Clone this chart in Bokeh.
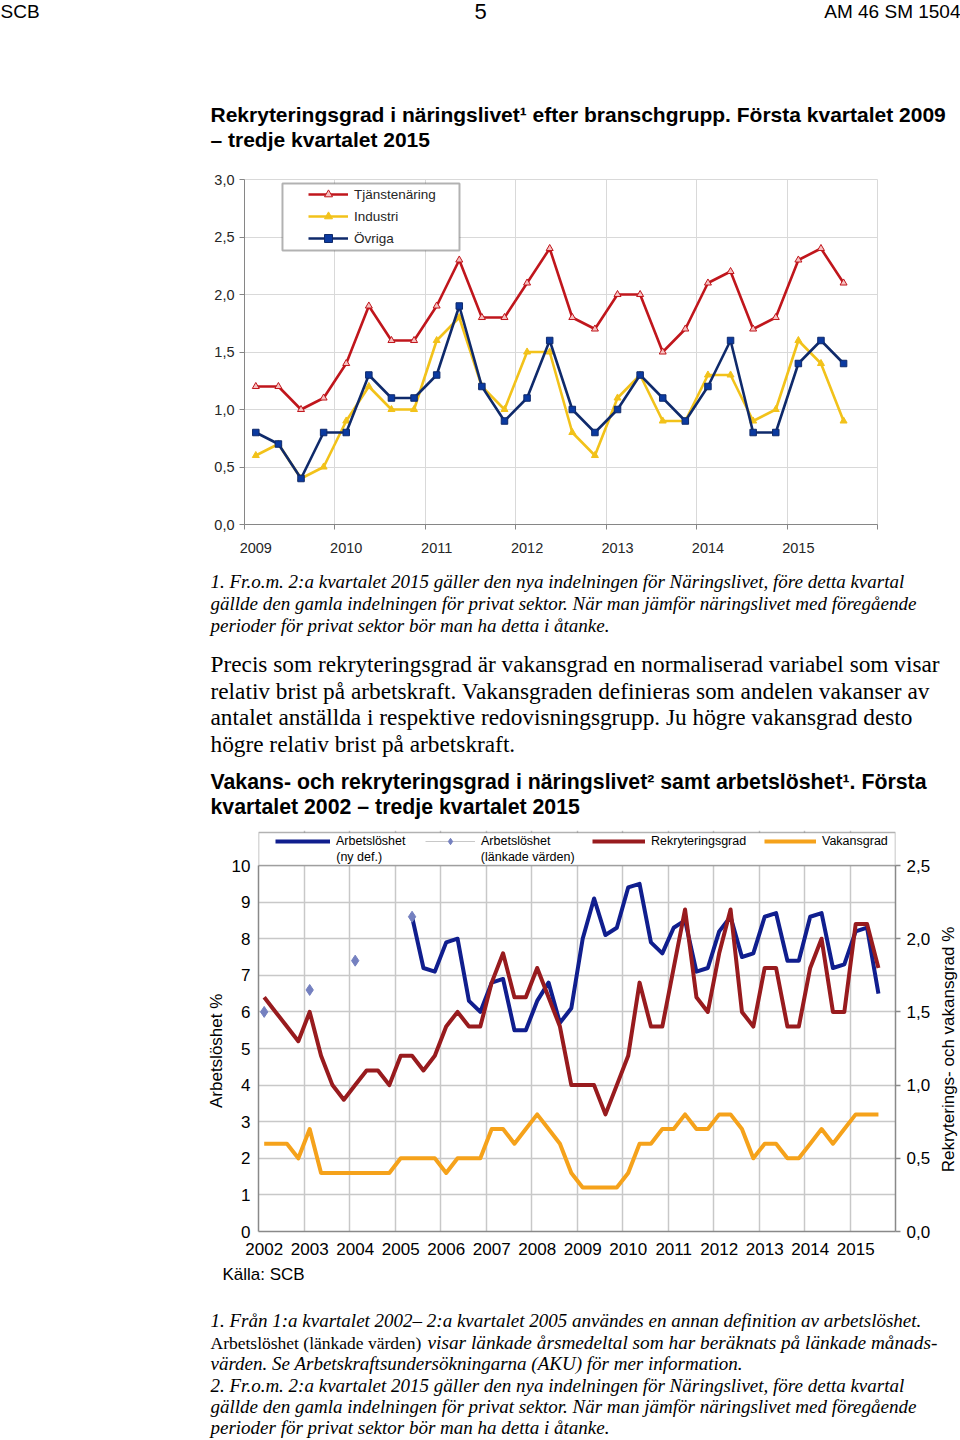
import numpy as np
from bokeh.plotting import figure
from bokeh.models import (Range1d, LinearAxis, FixedTicker, CustomJSTickFormatter,
                          Legend, LegendItem, BoxAnnotation, Label)
from bokeh.layouts import column, row
from bokeh.embed import file_html
from bokeh.resources import INLINE
from bokeh.core.properties import value

# ---------------- data: chart 1 ----------------
years1 = ["2009", "2010", "2011", "2012", "2013", "2014", "2015"]
quarters1 = [f"{y} K{q}" for y in years1 for q in (1, 2, 3, 4)][:27]
tjanstenaring = [1.2, 1.2, 1.0, 1.1, 1.4, 1.9, 1.6, 1.6, 1.9, 2.3, 1.8, 1.8, 2.1, 2.4,
                 1.8, 1.7, 2.0, 2.0, 1.5, 1.7, 2.1, 2.2, 1.7, 1.8, 2.3, 2.4, 2.1]
industri = [0.6, 0.7, 0.4, 0.5, 0.9, 1.2, 1.0, 1.0, 1.6, 1.8, 1.2, 1.0, 1.5, 1.5,
            0.8, 0.6, 1.1, 1.3, 0.9, 0.9, 1.3, 1.3, 0.9, 1.0, 1.6, 1.4, 0.9]
ovriga = [0.8, 0.7, 0.4, 0.8, 0.8, 1.3, 1.1, 1.1, 1.3, 1.9, 1.2, 0.9, 1.1, 1.6,
          1.0, 0.8, 1.0, 1.3, 1.1, 0.9, 1.2, 1.6, 0.8, 0.8, 1.4, 1.6, 1.4]
y1_ticks = [0.0, 0.5, 1.0, 1.5, 2.0, 2.5, 3.0]

# ---------------- data: chart 2 ----------------
years2 = [str(y) for y in range(2002, 2016)]
quarters2 = [f"{y} K{q}" for y in years2 for q in (1, 2, 3, 4)][:55]
rekryteringsgrad = [1.6, 1.5, 1.4, 1.3, 1.5, 1.2, 1.0, 0.9, 1.0, 1.1, 1.1, 1.0,
                    1.2, 1.2, 1.1, 1.2, 1.4, 1.5, 1.4, 1.4, 1.7, 1.9, 1.6, 1.6,
                    1.8, 1.6, 1.4, 1.0, 1.0, 1.0, 0.8, 1.0, 1.2, 1.7, 1.4, 1.4,
                    1.8, 2.2, 1.6, 1.5, 1.9, 2.2, 1.5, 1.4, 1.8, 1.8, 1.4, 1.4,
                    1.8, 2.0, 1.5, 1.5, 2.1, 2.1, 1.8]
vakansgrad = [0.6, 0.6, 0.6, 0.5, 0.7, 0.4, 0.4, 0.4, 0.4, 0.4, 0.4, 0.4,
              0.5, 0.5, 0.5, 0.5, 0.4, 0.5, 0.5, 0.5, 0.7, 0.7, 0.6, 0.7,
              0.8, 0.7, 0.6, 0.4, 0.3, 0.3, 0.3, 0.3, 0.4, 0.6, 0.6, 0.7,
              0.7, 0.8, 0.7, 0.7, 0.8, 0.8, 0.7, 0.5, 0.6, 0.6, 0.5, 0.5,
              0.6, 0.7, 0.6, 0.7, 0.8, 0.8, 0.8]
arb_ny_start = "2005 K2"
arbetsloshet_ny = [8.6, 7.2, 7.1, 7.9, 8.0, 6.3, 6.0, 6.8, 6.9, 5.5, 5.5, 6.3, 6.8,
                   5.7, 6.1, 8.0, 9.1, 8.1, 8.3, 9.4, 9.5, 7.9, 7.6, 8.3, 8.5, 7.1,
                   7.2, 8.2, 8.6, 7.5, 7.6, 8.6, 8.7, 7.4, 7.4, 8.6, 8.7, 7.2, 7.3,
                   8.2, 8.3, 6.5]
arb_lank_quarters = ["2002 K1", "2003 K1", "2004 K1", "2005 K2"]
arbetsloshet_lank = [6.0, 6.6, 7.4, 8.6]
y2_left_ticks = list(range(0, 11))
y2_right_ticks = [0.0, 0.5, 1.0, 1.5, 2.0, 2.5]

SANS = "Liberation Sans"
SERIF = "Liberation Serif"
W = 960
comma_fmt = CustomJSTickFormatter(code="return tick.toFixed(1).replace('.', ',');")


def text_fig(top, bottom, left=0, right=W):
    p = figure(width=right - left, height=bottom - top, x_range=Range1d(left, right),
               y_range=Range1d(bottom, top), output_backend="svg",
               toolbar_location=None, min_border=0, x_axis_type=None,
               y_axis_type=None, outline_line_color=None, frame_align=False)
    p.grid.visible = False
    return p


def add_text(p, xs, ys, texts, font, size, style="normal", align="left", color="black",
             angle=0.0):
    p.text(x=xs, y=ys, text=texts, text_font=value(font), text_font_size=size,
           text_font_style=style, text_align=align, text_baseline="middle",
           text_color=color, angle=angle)


# ---------------- Fig A: header + title 1 ----------------
pa = text_fig(0, 160)
add_text(pa, [0], [11], ["SCB"], SANS, "19px")
add_text(pa, [480], [11], ["5"], SANS, "22px", align="center")
add_text(pa, [960], [11], ["AM 46 SM 1504"], SANS, "19px", align="right")
add_text(pa, [210, 210], [114, 139],
         ["Rekryteringsgrad i näringslivet¹ efter branschgrupp. Första kvartalet 2009",
          "– tredje kvartalet 2015"], SANS, "21px", style="bold")

# ---------------- Fig B: chart 1 ----------------
n1 = 4 * len(years1)
x1 = np.arange(len(quarters1)) + 0.5
p1 = figure(width=W, height=400, x_range=Range1d(0, n1), y_range=Range1d(0, y1_ticks[-1]),
            output_backend="svg", toolbar_location=None, frame_align=False,
            min_border_left=244, min_border_right=83, min_border_top=19, min_border_bottom=36,
            outline_line_color="#D9D9D9")
year_pos1 = [4 * i + 0.5 for i in range(len(years1))]
bounds1 = [4 * i for i in range(len(years1) + 1)]
p1.xaxis.ticker = FixedTicker(ticks=year_pos1, minor_ticks=bounds1)
p1.xaxis.formatter = CustomJSTickFormatter(args=dict(labels=years1),
                                           code="return labels[Math.floor(tick/4)] || '';")
p1.xaxis.major_tick_out = 0
p1.xaxis.major_tick_in = 0
p1.xaxis.minor_tick_out = 5
p1.xaxis.minor_tick_in = 0
p1.xaxis.minor_tick_line_color = "#868686"
p1.xaxis.major_label_standoff = 13
p1.yaxis.ticker = FixedTicker(ticks=y1_ticks)
p1.yaxis.formatter = comma_fmt
p1.yaxis.major_tick_out = 5
p1.yaxis.major_tick_in = 0
p1.yaxis.minor_tick_line_color = None
p1.yaxis.major_label_standoff = 5
for ax in (p1.xaxis[0], p1.yaxis[0]):
    ax.axis_line_color = "#868686"
    ax.major_label_text_font = SANS
    ax.major_label_text_font_size = "14.5px"
    ax.major_label_text_color = "#262626"
p1.xaxis.major_tick_line_color = None
p1.yaxis.major_tick_line_color = "#868686"
p1.xgrid.ticker = FixedTicker(ticks=bounds1)
p1.ygrid.ticker = FixedTicker(ticks=y1_ticks)
p1.grid.grid_line_color = "#D9D9D9"

RED1, YEL1, NAV1 = "#C0161C", "#F2C21A", "#0F2A6B"
l_t = p1.line(x1, tjanstenaring, line_color=RED1, line_width=2.6)
m_t = p1.scatter(x1, tjanstenaring, marker="triangle", size=7, fill_color="#F6C0C0",
                 line_color=RED1, line_width=1)
l_i = p1.line(x1, industri, line_color=YEL1, line_width=2.6)
m_i = p1.scatter(x1, industri, marker="triangle", size=7, fill_color=YEL1, line_color=YEL1)
l_o = p1.line(x1, ovriga, line_color=NAV1, line_width=2.6)
m_o = p1.scatter(x1, ovriga, marker="square", size=6.5, fill_color="#0B3AA0", line_color=NAV1)

p1.add_layout(BoxAnnotation(left=1.68, right=9.51, bottom=2.383, top=2.965,
                            fill_color="white", fill_alpha=1, line_color="black",
                            line_width=2))
leg1 = Legend(items=[LegendItem(label="Tjänstenäring", renderers=[l_t, m_t]),
                     LegendItem(label="Industri", renderers=[l_i, m_i]),
                     LegendItem(label="Övriga", renderers=[l_o, m_o])],
              location=(64, 276), padding=0, margin=0, spacing=2,
              glyph_width=40, glyph_height=20, label_height=20, label_standoff=6,
              border_line_alpha=0, background_fill_alpha=0,
              label_text_font=SANS, label_text_font_size="13.5px",
              label_text_color="#262626")
p1.add_layout(leg1)

# ---------------- Fig C: notes + paragraph + title 2 ----------------
pc = text_fig(560, 825)
add_text(pc, [210] * 3, [581, 603, 625],
         ["1. Fr.o.m. 2:a kvartalet 2015 gäller den nya indelningen för Näringslivet, före detta kvartal",
          "gällde den gamla indelningen för privat sektor. När man jämför näringslivet med föregående",
          "perioder för privat sektor bör man ha detta i åtanke."], SERIF, "19px", style="italic")
add_text(pc, [210] * 4, [663, 690, 716, 743],
         ["Precis som rekryteringsgrad är vakansgrad en normaliserad variabel som visar",
          "relativ brist på arbetskraft. Vakansgraden definieras som andelen vakanser av",
          "antalet anställda i respektive redovisningsgrupp. Ju högre vakansgrad desto",
          "högre relativ brist på arbetskraft."], SERIF, "23.3px")
add_text(pc, [210, 210], [781, 806],
         ["Vakans- och rekryteringsgrad i näringslivet² samt arbetslöshet¹. Första",
          "kvartalet 2002 – tredje kvartalet 2015"], SANS, "21.3px", style="bold")

# ---------------- Fig D: chart 2 (row: left title | chart | right title) ----------------
D_TOP, D_BOT = 825, 1262
L_SPLIT, R_SPLIT = 228, 933
n2 = 4 * len(years2)
px_per_unit = 36.6
frame_h2 = (D_BOT - D_TOP) - 5 - 31
ytop_left = frame_h2 / px_per_unit
scale_lr = y2_left_ticks[-1] / y2_right_ticks[-1]
p2 = figure(width=R_SPLIT - L_SPLIT, height=D_BOT - D_TOP, x_range=Range1d(0, n2),
            y_range=Range1d(0, ytop_left),
            output_backend="svg", toolbar_location=None, frame_align=False,
            min_border_left=258 - L_SPLIT, min_border_right=R_SPLIT - 897,
            min_border_top=5, min_border_bottom=31, outline_line_color=None)
p2.extra_y_ranges = {"right": Range1d(0, ytop_left / scale_lr)}
bounds2 = [4 * i for i in range(len(years2) + 1)]
year_pos2 = [4 * i + 0.5 for i in range(len(years2))]
p2.xaxis.ticker = FixedTicker(ticks=year_pos2)
p2.xaxis.formatter = CustomJSTickFormatter(args=dict(labels=years2),
                                           code="return labels[Math.floor(tick/4)] || '';")
p2.xaxis.major_tick_line_color = None
p2.xaxis.major_tick_out = 0
p2.xaxis.major_tick_in = 0
p2.xaxis.minor_tick_line_color = None
p2.xaxis.major_label_standoff = 11
p2.yaxis.ticker = FixedTicker(ticks=y2_left_ticks)
p2.yaxis.bounds = (y2_left_ticks[0], y2_left_ticks[-1])
p2.yaxis.major_tick_line_color = None
p2.yaxis.major_tick_out = 0
p2.yaxis.major_tick_in = 0
p2.yaxis.minor_tick_line_color = None
p2.yaxis.major_label_standoff = 8
ax_r = LinearAxis(y_range_name="right", ticker=FixedTicker(ticks=y2_right_ticks),
                  formatter=comma_fmt, major_tick_out=5, major_tick_in=0,
                  bounds=(y2_right_ticks[0], y2_right_ticks[-1]),
                  minor_tick_line_color=None, major_label_standoff=6)
p2.add_layout(ax_r, "right")
for ax in (p2.xaxis[0], p2.yaxis[0], ax_r):
    ax.axis_line_color = "#898989"
    ax.axis_line_width = 1.5
    ax.major_label_text_font = SANS
    ax.major_label_text_font_size = "17px"
    ax.major_label_text_color = "black"
ax_r.major_tick_line_color = "#898989"
ax_r.major_tick_line_width = 1.5
p2.xgrid.ticker = FixedTicker(ticks=bounds2)
p2.ygrid.ticker = FixedTicker(ticks=y2_left_ticks)
p2.grid.grid_line_color = "#C8C8C8"
p2.grid.grid_line_width = 1.5

NAVY2, RED2, ORA2, DIA = "#101E8E", "#981B1E", "#F5A21B", "#7480C0"
x2 = np.arange(len(quarters2)) + 0.5
i0 = quarters2.index(arb_ny_start)
x_ny = np.arange(i0, i0 + len(arbetsloshet_ny)) + 0.5
x_lank = np.array([quarters2.index(q) for q in arb_lank_quarters]) + 0.5

r_vak = p2.line(x2, vakansgrad, line_color=ORA2, line_width=4, y_range_name="right",
                line_join="round")
r_ny = p2.line(x_ny, arbetsloshet_ny, line_color=NAVY2, line_width=4, line_join="round")
r_rek = p2.line(x2, rekryteringsgrad, line_color=RED2, line_width=4, y_range_name="right",
                line_join="round")
r_lank_line = p2.line(x_lank, arbetsloshet_lank, line_color="#C8C8C8", line_width=1,
                      visible=False)
r_lank = p2.scatter(x_lank, arbetsloshet_lank, marker="diamond", size=11,
                    fill_color=DIA, line_color=DIA)

p2.add_layout(BoxAnnotation(left=0, right=n2, bottom=y2_left_ticks[-1],
                            top=y2_left_ticks[-1] + 33 / px_per_unit,
                            fill_color="white", fill_alpha=1, line_color="black",
                            line_width=1.5))
leg_common = dict(padding=0, margin=0, spacing=0, border_line_alpha=0,
                  background_fill_alpha=0, label_text_font=SANS,
                  label_text_font_size="12.5px", label_text_color="black",
                  label_standoff=6, glyph_height=16, label_height=16)
leg_specs = [("Arbetslöshet", [r_ny], 17, 55),
             ("Arbetslöshet", [r_lank_line, r_lank], 167, 50),
             ("Rekryteringsgrad", [r_rek], 334, 53),
             ("Vakansgrad", [r_vak], 506, 52)]
for lab, rends, lx, gw in leg_specs:
    p2.add_layout(Legend(items=[LegendItem(label=lab, renderers=rends)],
                         location=(lx, 382), glyph_width=gw, **leg_common))
unit_x = (897 - 258) / n2
y_second = (1231 - 856) / px_per_unit
for lx, gw, txt in [(17, 55, "(ny def.)"), (167, 50, "(länkade värden)")]:
    p2.add_layout(Label(x=(lx + gw + 6) / unit_x, y=y_second, text=txt,
                        text_align="left", text_baseline="middle", text_font=SANS,
                        text_font_size="12.5px", text_color="black"))

pl = text_fig(D_TOP, D_BOT, 0, L_SPLIT)
add_text(pl, [216], [1048], ["Arbetslöshet  %"], SANS, "17px", align="center",
         angle=np.pi / 2)
pr = text_fig(D_TOP, D_BOT, R_SPLIT, W)
add_text(pr, [948], [1049], ["Rekryterings- och vakansgrad %"], SANS, "17px",
         align="center", angle=np.pi / 2)
fig_d = row(pl, p2, pr, spacing=0)

# ---------------- Fig E: source + footnotes ----------------
pe = text_fig(1262, 1438)
add_text(pe, [222], [1274], ["Källa: SCB"], SANS, "17px")
foot_y = [1320, 1342, 1363, 1385, 1406, 1427]
add_text(pe, [210], [foot_y[0]],
         ["1. Från 1:a kvartalet 2002– 2:a kvartalet 2005 användes en annan definition av arbetslöshet."],
         SERIF, "19px", style="italic")
add_text(pe, [210], [foot_y[1]], ["Arbetslöshet (länkade värden)"], SERIF, "17.5px")
add_text(pe, [427], [foot_y[1]],
         ["visar länkade årsmedeltal som har beräknats på länkade månads-"],
         SERIF, "19.3px", style="italic")
add_text(pe, [210] * 4, foot_y[2:],
         ["värden. Se Arbetskraftsundersökningarna (AKU) för mer information.",
          "2. Fr.o.m. 2:a kvartalet 2015 gäller den nya indelningen för Näringslivet, före detta kvartal",
          "gällde den gamla indelningen för privat sektor. När man jämför näringslivet med föregående",
          "perioder för privat sektor bör man ha detta i åtanke."], SERIF, "19px", style="italic")

layout = column(pa, p1, pc, fig_d, pe, spacing=0)
open("out.html", "w").write(file_html(layout, INLINE))
